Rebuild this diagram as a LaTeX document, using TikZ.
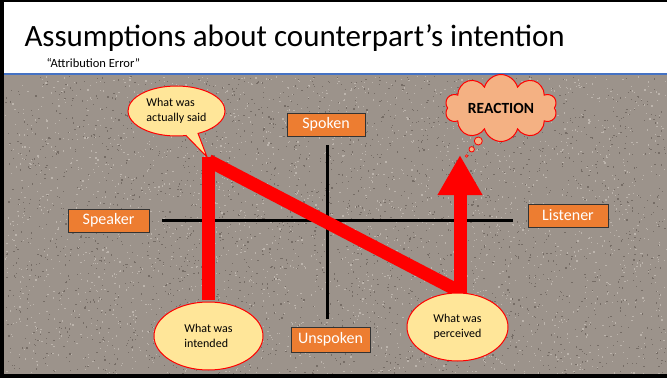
\documentclass[tikz,border=0pt]{standalone}
\usepackage{fontspec}
\setmainfont{Carlito}
\usetikzlibrary{shapes.geometric,shapes.symbols,shapes.callouts,arrows.meta}
\definecolor{granite}{RGB}{156,147,139}
\definecolor{graniteDark}{RGB}{118,109,102}
\definecolor{graniteLight}{RGB}{188,180,172}
\definecolor{boxorange}{RGB}{237,125,49}
\definecolor{bubble}{RGB}{255,230,153}
\definecolor{cloudfill}{RGB}{244,177,131}
\definecolor{ruleblue}{RGB}{68,114,196}
\tikzset{
  labelbox/.style={draw=black!80, line width=0.8pt, fill=boxorange, text=white,
    font=\fontsize{16}{18}\selectfont, minimum width=80pt, minimum height=24pt, inner sep=0pt},
  thought/.style={ellipse, draw=red, line width=1pt, fill=bubble,
    font=\fontsize{12}{15}\selectfont, inner sep=0pt, align=left},
  redstroke/.style={draw=red, line width=13pt},
  axisline/.style={line width=3.5pt}
}
\begin{document}
\begin{tikzpicture}[x=1pt,y=-1pt]
				\useasboundingbox (0,0) rectangle (667,378);
				\fill[black] (0,0) rectangle (667,378);
				\fill[white] (4,2) rectangle (667,74);
				\fill[granite] (4,75) rectangle (667,374);
				% speckles for the stone look
				\pgfmathsetseed{7}
				\foreach \i in {1,...,2600} {
					\pgfmathsetmacro{\px}{5+661*rnd}
					\pgfmathsetmacro{\py}{76+297*rnd}
					\fill[graniteDark] (\px,\py) rectangle ++(1.2,1.2);
					\pgfmathsetmacro{\qx}{5+661*rnd}
					\pgfmathsetmacro{\qy}{76+297*rnd}
					\fill[graniteLight] (\qx,\qy) rectangle ++(1.2,1.2);
				}
				\draw[ruleblue, line width=1.5pt] (4,74) -- (667,74);
				
				\node[anchor=base west, font=\fontsize{31}{36}\selectfont] (title) at (21,46) {Assumptions about counterpart’s intention};
				\node[anchor=base west, font=\fontsize{12.5}{15}\selectfont] (subtitle) at (43,67) {“Attribution Error”};
				
				% axes
				\coordinate (axisW) at (162,220.5);
				\coordinate (axisE) at (513,220.5);
				\coordinate (axisN) at (327.5,145);
				\coordinate (axisS) at (327.5,319);
				\draw[axisline] (axisW) -- (axisE);
				\draw[axisline] (axisN) -- (axisS);
				
				% the N path
				\coordinate (nw) at (208.5,157);
				\coordinate (nwdiag) at (208.5,160.6);
				\coordinate (se) at (460,291.7);
				\coordinate (top) at (460,155);
				\draw[redstroke] (208.5,300) -- (nw);
				\draw[redstroke] (nwdiag) -- (se);
				\draw[redstroke, -{Triangle[length=40pt,width=42pt]}] (460,295) -- (top);
				
				\node[thought, minimum width=109pt, minimum height=68pt] (intended) at (208.5,336) {What was\\intended};
				\node[thought, align=center, minimum width=101pt, minimum height=68pt] (perceived) at (457.5,327) {What was\\perceived};
				\coordinate (saidtip) at (207,157);
				\node[thought, shape=ellipse callout, callout absolute pointer={(saidtip)}, minimum width=97pt, minimum height=50pt] (said) at (176.5,111) {What was\\actually said};
				
				\node[cloud, cloud puffs=10, aspect=2.3, draw=red, line width=1pt, fill=cloudfill, minimum width=112pt, minimum height=50pt, font=\fontsize{15.5}{18}\selectfont\bfseries] (reaction) at (501,108) {REACTION};
				\draw[red, fill=cloudfill, line width=0.8pt] (478.3,141) circle (4pt);
				\draw[red, fill=cloudfill, line width=0.8pt] (471.7,149.3) circle (2.7pt);
				\draw[red, fill=cloudfill, line width=0.6pt] (466.7,156) circle (1.3pt);
				
				\node[labelbox, minimum width=78pt, minimum height=23pt] (spoken) at (326,124.5) {Spoken};
				\node[labelbox, minimum width=79pt, minimum height=25pt] (unspoken) at (330.5,339.5) {Unspoken};
				\node[labelbox, minimum width=81pt, minimum height=23pt] (speaker) at (108.5,220.5) {Speaker};
				\node[labelbox, minimum width=80pt, minimum height=23pt] (listener) at (568,215.5) {Listener};
			\end{tikzpicture}
\end{document}
